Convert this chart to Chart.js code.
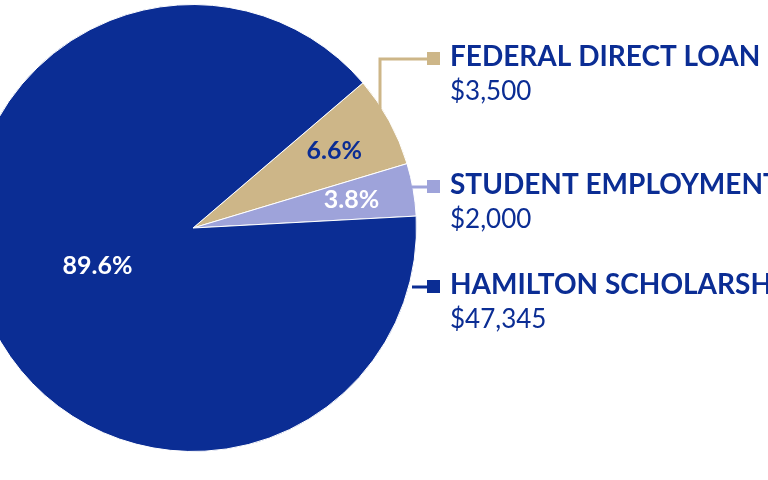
<!DOCTYPE html>
<html><head><meta charset="utf-8">
<script src="https://cdn.jsdelivr.net/npm/chart.js@4"></script>
<style>html,body{margin:0;padding:0;background:#fff;overflow:hidden}</style>
</head><body>
<div style="width:768px;height:480px;position:relative;overflow:hidden"><canvas id="c" width="799" height="480" style="position:absolute;left:-31px;top:0"></canvas></div>
<script>
const categories = ["FEDERAL DIRECT LOAN", "STUDENT EMPLOYMENT", "HAMILTON SCHOLARSHIP"];
const amounts = ["$3,500", "$2,000", "$47,345"];
const percents = [6.6, 3.8, 89.6];
const colors = ["#cdb688", "#9ea3da", "#0b2d94"];
const pctColors = ["#0b2d94", "#ffffff", "#ffffff"];
const labelY = [57, 185, 285];
const OX = 31;

const overlay = {
  id: 'overlay',
  afterDatasetsDraw(chart) {
    const ctx = chart.ctx;
    const meta = chart.getDatasetMeta(0);
    ctx.save();
    meta.data.forEach((arc, i) => {
      const p = arc.getProps(['x','y','startAngle','endAngle','outerRadius'], true);
      const mid = (p.startAngle + p.endAngle) / 2;
      const rr = i === 2 ? p.outerRadius * 0.46 : p.outerRadius * 0.72;
      const tx = p.x + Math.cos(mid) * rr, ty = p.y + Math.sin(mid) * rr;
      ctx.fillStyle = pctColors[i];
      ctx.font = "bold 25px Lato";
      ctx.textAlign = "center"; ctx.textBaseline = "middle";
      ctx.fillText(percents[i].toFixed(1) + "%", tx, ty);
      const sq = labelY[i];
      ctx.strokeStyle = colors[i]; ctx.lineWidth = 3;
      ctx.beginPath();
      if (i === 0) {
        ctx.moveTo(380 + OX, 112); ctx.lineTo(380 + OX, sq + 2); ctx.lineTo(428 + OX, sq + 2);
      } else {
        ctx.moveTo(412 + OX, sq + 2); ctx.lineTo(428 + OX, sq + 2);
      }
      ctx.stroke();
      ctx.fillStyle = colors[i];
      ctx.fillRect(427 + OX, sq - 5, 13, 13);
      ctx.fillStyle = "#0b2d94";
      ctx.textAlign = "left"; ctx.textBaseline = "middle";
      ctx.font = "bold 28px Lato";
      ctx.fillText(categories[i], 450 + OX, sq);
      ctx.font = "26px Lato";
      ctx.fillText(amounts[i], 450 + OX, sq + 35);
    });
    ctx.restore();
  }
};

new Chart(document.getElementById('c'), {
  type: 'pie',
  data: { labels: categories, datasets: [{ data: percents, backgroundColor: colors, borderColor: '#fff', borderWidth: 1 }] },
  options: {
    responsive: false, animation: false,
    rotation: 49.5,
    layout: { padding: { left: 0, right: 351, top: 4, bottom: 28 } },
    plugins: { legend: { display: false }, tooltip: { enabled: false } }
  },
  plugins: [overlay]
});
</script>
</body></html>
